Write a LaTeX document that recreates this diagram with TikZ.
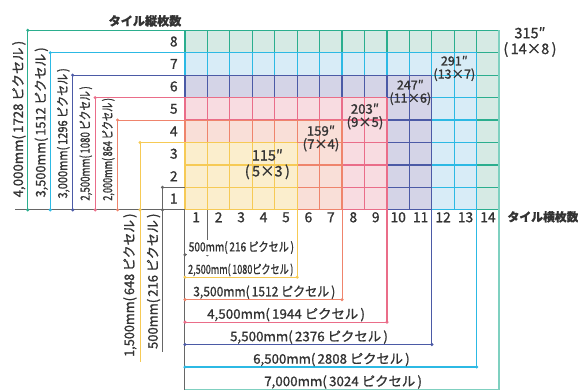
\documentclass[tikz,border=0pt]{standalone}
\usepackage{fontspec}
\setmainfont{Noto Sans CJK JP}[UprightFeatures={FakeBold=1.2}, BoldFeatures={FakeBold=1}]
\usepackage{graphicx}
\usepackage{tikz}

\definecolor{tealL}{HTML}{2BAE8E} \definecolor{tealF}{HTML}{D6EAE4} \definecolor{tealB}{HTML}{7FD0C0}
\definecolor{skyL}{HTML}{2CB9E4}  \definecolor{skyF}{HTML}{D8ECF7}
\definecolor{indL}{HTML}{4B5AA6}  \definecolor{indF}{HTML}{D4D4E7}
\definecolor{pinkL}{HTML}{EA6D89} \definecolor{pinkF}{HTML}{F8DCE1}
\definecolor{salL}{HTML}{EF846C}  \definecolor{salF}{HTML}{F9DFD8}
\definecolor{yelL}{HTML}{F6CA55}  \definecolor{yelF}{HTML}{FBEECD}
\definecolor{grayL}{HTML}{666666}
\definecolor{txt}{HTML}{333333}

\newcommand{\fitw}[2]{\resizebox{#1}{\height}{#2}}

\begin{document}
\begin{tikzpicture}[x=0.6cm,y=0.6cm,
    gl/.style={line width=0.9pt},
    dl/.style={line width=0.8pt},
    numlbl/.style={font=\fontsize{10.5}{10}\selectfont, text=txt},
    dimlbl/.style={font=\fontsize{10}{10}\selectfont, inner sep=0pt, text=txt},
    dimsm/.style={font=\fontsize{9.5}{9}\selectfont, inner sep=0pt, text=txt},
    sizelbl/.style={align=center, inner sep=0pt, text=txt}]
    \useasboundingbox (-8.24,-8.02) rectangle (17.51,9.35);

    % Tiles
    \foreach \w/\h/\lc/\fc in {14/8/tealL/tealF, 13/7/skyL/skyF, 11/6/indL/indF,
                               9/5/pinkL/pinkF, 7/4/salL/salF, 5/3/yelL/yelF}{
        \fill[\fc] (0,0) rectangle (\w,\h);
        \draw[\lc, gl, step=1] (0,0) grid (\w,\h);
    }
    \draw[tealB, line width=1.8pt] (14,8) -- (14,-8.1);

    % Numbers
    \foreach \r in {1,...,8} \node[numlbl, anchor=east] (row\r) at (-0.12,\r-0.5) {\r};
    \foreach \c in {1,...,14} \node[numlbl] (col\c) at (\c-0.5,-0.33) {\c};
    \node[font=\bfseries\fontsize{9.2}{10}\selectfont, text=txt] (ttlv) at (-1.78,8.42) {タイル縦枚数};
    \node[font=\bfseries\fontsize{9}{10}\selectfont, text=txt, anchor=west, inner sep=0pt] (ttlh) at (14.36,-0.31) {タイル横枚数};

    % Base line and axis
    \draw[grayL, dl] (-7.57,0) -- (0,0);
    \draw[grayL, dl] (0,0) -- (0,-8.1);

    % Height marks
    \foreach \k/\r/\c in {3/4/salL, 4/5/pinkL, 5/6/indL, 6/7/skyL, 7/8/tealL}{
        \draw[\c, dl] (0,\r) -- (-\k,\r) -- (-\k,0);
        \fill[\c] (-\k,\r) circle (1.3pt) (-\k,0) circle (1.3pt);
    }
    \draw[grayL, dl] (0,1) -- (-1,1) -- (-1,-6.33);
    \fill[grayL] (-1,1) circle (1.3pt) (-1,0) circle (1.3pt);
    \draw[yelL, dl] (0,3) -- (-2,3) -- (-2,-6.77);
    \fill[yelL] (-2,3) circle (1.3pt) (-2,0) circle (1.3pt);

    \node[dimlbl, rotate=90, anchor=west] (h8) at (-7.4,0.55) {\fitw{119pt}{4,000mm(\,1728 ピクセル\,)}};
    \node[dimlbl, rotate=90, anchor=west] (h7) at (-6.4,0.55) {\fitw{114pt}{3,500mm(\,1512 ピクセル\,)}};
    \node[dimsm, rotate=90, anchor=west] (h6) at (-5.42,0.5) {\fitw{99pt}{3,000mm(\,1296 ピクセル\,)}};
    \node[dimsm, rotate=90, anchor=west] (h5) at (-4.42,0.4) {\fitw{87pt}{2,500mm(\,1080 ピクセル\,)}};
    \node[dimsm, rotate=90, anchor=west] (h4) at (-3.42,0.4) {\fitw{78pt}{2,000mm(\,864 ピクセル\,)}};
    \node[dimlbl, rotate=90, anchor=east] (h3) at (-2.45,-0.15) {\fitw{109pt}{1,500mm(\,648 ピクセル\,)}};
    \node[dimlbl, rotate=90, anchor=east] (h1) at (-1.4,-0.15) {\fitw{103pt}{500mm(\,216 ピクセル\,)}};

    % Width marks
    \foreach \k/\n/\c in {2/1/grayL, 3/5/yelL, 4/7/salL, 5/9/pinkL, 6/11/indL, 7/13/skyL}{
        \draw[\c, dl] (0,-\k) -- (\n,-\k) -- (\n,0);
        \fill[\c] (0,-\k) circle (1.3pt) (\n,-\k) circle (1.3pt);
    }
    \draw[grayL, dl] (1,-2) -- (4.59,-2);
    \draw[tealB, dl] (0,-8) -- (14,-8);

    \node[dimsm, anchor=base west, fill=white, inner sep=1pt] (w1) at (0.1,-1.85) {\fitw{80pt}{500mm(\,216 ピクセル\,)}};
    \node[dimsm, anchor=base west] (w5) at (0.13,-2.85) {\fitw{80pt}{2,500mm(\,1080ピクセル\,)}};
    \node[dimlbl, anchor=base west] (w7) at (0.36,-3.85) {\fitw{108pt}{3,500mm(\,1512 ピクセル\,)}};
    \node[dimlbl, anchor=base west] (w9) at (0.98,-4.85) {\fitw{120pt}{4,500mm(\,1944 ピクセル\,)}};
    \node[dimlbl, anchor=base west] (w11) at (2.0,-5.85) {\fitw{120pt}{5,500mm(\,2376 ピクセル\,)}};
    \node[dimlbl, anchor=base west] (w13) at (3.03,-6.85) {\fitw{119pt}{6,500mm(\,2808 ピクセル\,)}};
    \node[dimlbl, anchor=base west] (w14) at (3.52,-7.85) {\fitw{120pt}{7,000mm(\,3024 ピクセル\,)}};

    % Sizes
    \node[sizelbl, font=\fontsize{11}{12}\selectfont] (s53) at (3.67,2.03) {115″\\(\,5×3\,)};
    \node[sizelbl, font=\fontsize{10}{10}\selectfont] (s74) at (6.06,3.18) {159″\\(7×4)};
    \node[sizelbl, font=\fontsize{10}{10}\selectfont] (s95) at (8.02,4.16) {203″\\(9×5)};
    \node[sizelbl, font=\fontsize{9.5}{10}\selectfont] (s116) at (10.04,5.23) {247″\\(11×6)};
    \node[sizelbl, font=\fontsize{9.5}{10}\selectfont] (s137) at (12.0,6.30) {291″\\(13×7)};
    \node[sizelbl, font=\fontsize{11}{12}\selectfont] (s148) at (15.37,7.48) {315″\\(\,14×8\,)};
\end{tikzpicture}
\end{document}
